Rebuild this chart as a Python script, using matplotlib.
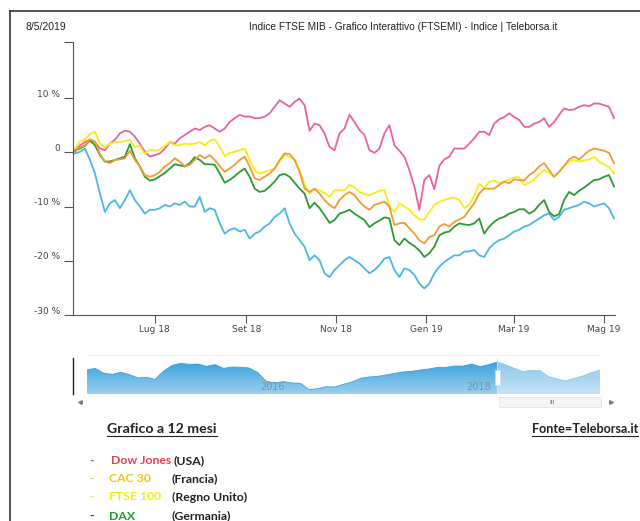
import numpy as np
import pandas as pd
import matplotlib
matplotlib.use('Agg')
import matplotlib.pyplot as plt
import matplotlib.dates as mdates
import matplotlib.transforms as mtransforms
from matplotlib.lines import Line2D
from matplotlib.patches import Rectangle
from matplotlib.colors import LinearSegmentedColormap

# --- 12 month performance (%) ---
dates = pd.date_range('2018-05-08', '2019-05-08', periods=109)

ftse_mib = [-0.2, 0.1, 0.7, -1.4, -3.9, -7.6, -11.0, -9.4, -8.8, -10.3,
            -8.8, -7.0, -8.8, -10.0, -11.3, -10.6, -10.6, -10.3, -9.7, -10.0,
            -9.4, -9.7, -9.1, -10.0, -10.0, -8.2, -11.0, -10.3, -10.6, -13.1,
            -15.0, -14.3, -14.0, -14.6, -14.3, -15.9, -15.0, -14.6, -13.7, -13.1,
            -11.9, -11.3, -10.3, -13.1, -15.0, -16.2, -17.4, -19.9, -19.0, -19.9,
            -22.3, -23.0, -21.7, -20.8, -19.9, -19.3, -19.9, -20.5, -21.4, -22.3,
            -21.7, -20.8, -19.6, -19.3, -21.7, -23.0, -21.4, -21.7, -22.6, -24.2,
            -25.1, -24.2, -22.3, -21.1, -20.2, -19.6, -19.0, -19.0, -18.3, -18.3,
            -18.0, -19.0, -19.3, -17.7, -16.8, -16.2, -15.9, -15.3, -14.6, -14.3,
            -13.7, -13.4, -12.8, -12.2, -11.6, -11.3, -12.5, -11.9, -10.6, -10.3,
            -10.0, -9.7, -9.1, -9.4, -10.0, -9.7, -9.4, -10.3, -12.2]

dow_jones = [0.1, 1.3, 1.9, 2.3, 1.9, 0.7, 0.4, 1.6, 2.3, 3.5,
             4.0, 3.8, 2.9, 1.6, 0.1, -0.8, -0.5, -0.2, 0.7, 1.9,
             1.6, 2.6, 3.2, 3.8, 4.4, 4.1, 4.7, 5.0, 4.4, 3.8,
             4.4, 5.6, 6.3, 6.9, 6.6, 6.6, 6.3, 6.3, 6.6, 7.2,
             8.4, 9.6, 9.0, 8.4, 9.3, 9.9, 8.7, 4.0, 5.3, 5.0,
             3.5, 1.0, 0.4, 3.5, 4.4, 6.9, 5.6, 4.1, 3.2, 0.4,
             -0.1, 0.7, 3.5, 5.0, 1.3, 0.3, -0.8, -3.3, -6.3, -10.6,
             -5.1, -4.2, -6.8, -2.5, -1.3, -0.8, 0.7, 0.7, 0.7, 1.6,
             2.6, 3.8, 3.8, 3.2, 5.3, 6.1, 6.5, 7.2, 6.5, 6.0,
             4.7, 4.7, 5.3, 5.6, 6.3, 4.7, 5.6, 6.9, 8.1, 7.8,
             7.9, 8.4, 8.7, 8.5, 9.0, 9.0, 8.7, 8.4, 6.3]

ftse_100 = [0.7, 2.0, 2.4, 3.4, 3.8, 1.6, 0.9, 1.6, 1.9, 1.9,
            2.1, 2.3, 0.9, 1.2, -0.3, 0.5, 0.3, 0.5, 1.2, 1.9,
            1.3, 1.3, 1.6, 1.5, 1.6, 1.9, 1.3, 2.1, 2.4, 1.0,
            -0.7, -0.1, 0.1, 0.4, 0.7, -1.4, -3.3, -3.9, -3.6, -3.3,
            -3.0, -1.7, -0.5, -0.8, -1.3, -3.3, -6.0, -7.6, -6.8, -7.0,
            -7.5, -8.2, -7.0, -7.0, -7.0, -6.0, -6.5, -7.3, -7.7, -7.9,
            -7.5, -7.1, -7.0, -10.0, -11.0, -9.4, -10.0, -10.6, -11.6, -12.4,
            -12.4, -11.0, -9.7, -9.1, -8.8, -8.5, -8.3, -8.8, -10.3, -9.7,
            -7.9, -5.8, -6.6, -5.4, -5.2, -5.7, -5.4, -5.0, -4.6, -4.6,
            -6.0, -5.6, -5.0, -4.0, -3.3, -3.8, -4.5, -3.6, -2.5, -1.7,
            -1.4, -1.7, -1.5, -1.3, -0.8, -1.7, -2.2, -2.7, -3.9]

cac = [0.4, 0.9, 1.3, 2.4, 2.0, -0.3, -1.7, -2.0, -1.4, -1.3,
       -1.1, 0.3, -1.4, -2.6, -4.2, -4.5, -4.2, -3.6, -2.6, -2.0,
       -1.1, -1.7, -2.6, -2.3, -1.4, -0.5, -1.1, -0.5, -1.4, -2.6,
       -3.6, -3.0, -2.3, -1.4, -0.8, -2.6, -4.8, -5.1, -4.5, -3.9,
       -3.0, -1.4, -0.2, -0.3, -1.4, -3.6, -6.7, -7.3, -6.7, -7.6,
       -8.8, -9.7, -10.3, -8.8, -7.9, -7.3, -7.9, -9.1, -10.0, -10.6,
       -9.7, -9.4, -9.1, -10.0, -13.4, -13.1, -13.0, -14.0, -15.0, -16.2,
       -16.8, -15.6, -15.3, -13.7, -13.2, -13.7, -12.8, -12.4, -11.9, -10.6,
       -9.4, -7.6, -6.7, -6.7, -6.7, -6.0, -5.4, -5.7, -5.0, -5.1,
       -5.2, -4.2, -3.6, -2.6, -2.0, -3.3, -4.5, -3.6, -2.5, -1.3,
       -0.8, -1.3, -0.5, 0.3, 0.7, 0.5, 0.3, -0.1, -2.0]

dax = [0.4, 0.7, 1.2, 2.2, 1.3, -0.5, -1.7, -1.7, -1.4, -1.1,
       -0.8, 1.5, -1.1, -2.6, -4.5, -5.2, -5.0, -4.4, -3.8, -3.0,
       -2.2, -2.4, -2.6, -2.0, -0.9, -1.4, -2.2, -2.2, -2.3, -3.9,
       -5.6, -5.1, -4.4, -3.6, -3.0, -4.5, -6.7, -7.3, -7.1, -6.3,
       -5.4, -4.2, -4.0, -4.5, -5.6, -6.7, -7.6, -10.3, -9.3, -10.3,
       -11.6, -13.0, -12.5, -11.3, -11.0, -10.6, -11.3, -11.9, -12.5, -13.8,
       -13.1, -12.6, -12.0, -12.2, -16.2, -17.1, -15.9, -16.7, -17.3, -18.1,
       -19.3, -18.6, -17.4, -15.3, -14.8, -14.6, -13.7, -13.1, -13.3, -13.4,
       -13.1, -12.2, -15.0, -13.7, -12.8, -12.2, -11.9, -11.3, -11.0, -10.5,
       -10.5, -11.3, -10.8, -9.7, -8.8, -11.0, -11.8, -11.4, -8.8, -7.3,
       -7.9, -7.1, -6.5, -5.8, -5.1, -5.0, -4.5, -4.2, -6.3]

# --- navigator (FTSE MIB, 5 years) ---
nav_dates = pd.date_range('2014-05-08', '2019-05-08', periods=61)
nav_level = [21960, 22460, 20950, 20650, 21250, 20550, 19540, 19740, 19130, 21660,
             23370, 23980, 23680, 23780, 23070, 23580, 22460, 22870, 22770, 22570,
             21150, 18530, 18020, 18430, 18020, 17920, 16000, 16300, 16910, 16810,
             17620, 18320, 19440, 19840, 20040, 20450, 20950, 21350, 21560, 21960,
             22260, 22770, 22770, 23170, 23170, 23780, 22970, 23580, 24380, 23480,
             22460, 21460, 21860, 21760, 19940, 19230, 18630, 19440, 20140, 21150,
             21960]
nav_years = ['2016-01-01', '2018-01-01']
nav_year_labels = ['2016', '2018']

xtick_dates = ['2018-07-01', '2018-09-01', '2018-11-01', '2019-01-01', '2019-03-01', '2019-05-01']
xtick_labels = ['Lug 18', 'Set 18', 'Nov 18', 'Gen 19', 'Mar 19', 'Mag 19']
ytick_vals = [-30, -20, -10, 0, 10]
ytick_labels = ['-30 %', '-20 %', '-10 %', '0', '10 %']

legend_names = ['Dow Jones', 'CAC 30', 'FTSE 100', 'DAX']
legend_countries = ['(USA)', '(Francia)', '(Regno Unito)', '(Germania)']
legend_colors = ['#e6404e', '#f3c21c', '#eeee10', '#1f9a2e']
dash_colors = ['#e6404e', '#f3d040', '#eeee40', '#333333']

W, H = 640, 521


def fx(x):
    return x / W


def fy(y):
    return 1 - y / H


fig = plt.figure(figsize=(6.4, 5.21), dpi=100)
fig.patch.set_facecolor('white')

# page frame of the scanned sheet
fig.add_artist(Line2D([fx(10), fx(640)], [fy(11), fy(11)], color='#333333', lw=1.2))
fig.add_artist(Line2D([fx(10), fx(10)], [fy(11), fy(521)], color='#333333', lw=1.2))

head_font = 'Liberation Sans'
fig.text(fx(26), fy(27), '8/5/2019', fontsize=7.5, family=head_font, va='center', color='#222222')
fig.text(fx(403), fy(27), 'Indice FTSE MIB - Grafico Interattivo (FTSEMI) - Indice | Teleborsa.it',
         fontsize=7.3, family=head_font, va='center', ha='center', color='#222222')

# --- main chart ---
ax = fig.add_axes([fx(73), fy(315), fx(615) - fx(73), fy(42) - fy(315)])
ax.plot(dates, ftse_mib, color='#4db6e8', lw=1.3)
ax.plot(dates, dow_jones, color='#e8629f', lw=1.3)
ax.plot(dates, ftse_100, color='#f6ec18', lw=1.3)
ax.plot(dates, dax, color='#2a9a32', lw=1.3)
ax.plot(dates, cac, color='#f39a32', lw=1.3)

ax.set_xlim(pd.Timestamp('2018-05-06 16:00'), pd.Timestamp('2019-05-08 16:00'))
ax.set_ylim(-30, 20.35)
for s in ['top', 'right']:
    ax.spines[s].set_visible(False)
for s in ['left', 'bottom']:
    ax.spines[s].set_color('#555555')
    ax.spines[s].set_linewidth(0.8)

ax.set_xticks(pd.to_datetime(xtick_dates))
ax.set_xticklabels(xtick_labels)
ax.set_yticks(ytick_vals + [20.35])
ax.set_yticklabels(ytick_labels + [''])
ax.tick_params(axis='y', direction='out', length=6.5, width=0.8, color='#555555',
               labelsize=6.5, labelcolor='#444444', pad=3)
ax.tick_params(axis='x', direction='out', length=5.8, width=0.8, color='#555555',
               labelsize=6.5, labelcolor='#444444', pad=1.5)
shift = mtransforms.ScaledTranslation(0, 0.05, fig.dpi_scale_trans)
for lbl in ax.get_yticklabels():
    lbl.set_transform(lbl.get_transform() + shift)

# --- navigator ---
nav = fig.add_axes([fx(86.7), fy(394), fx(600) - fx(86.7), fy(358) - fy(394)])
nav.axis('off')
ybot, ytop = 14690, 25600
poly = nav.fill_between(nav_dates, nav_level, ybot, color='none', lw=0)
cmap = LinearSegmentedColormap.from_list('nav', ['#9ccff0', '#36a2dc'])
grad = np.linspace(0, 1, 256).reshape(-1, 1)
x0, x1 = mdates.date2num(nav_dates[0]), mdates.date2num(nav_dates[-1])
im = nav.imshow(grad, cmap=cmap, aspect='auto', origin='lower',
                extent=[x0, x1, ybot, 24500], zorder=1)
im.set_clip_path(poly.get_paths()[0], transform=nav.transData)
nav.plot(nav_dates, nav_level, color='#3aa0d8', lw=0.6, zorder=2)
sel_start = dates[0]
nav.axvspan(sel_start, nav_dates[-1], color='white', alpha=0.42, lw=0, zorder=3)
nav.axvline(sel_start, color='#cfe6f4', lw=0.6, zorder=4)
nav.add_patch(Rectangle((mdates.date2num(sel_start) - 10, 0.25), 20, 0.42,
                        transform=mtransforms.blended_transform_factory(nav.transData, nav.transAxes),
                        facecolor='white', edgecolor='#d8d8d8', lw=0.5, zorder=5))
ylab = mtransforms.blended_transform_factory(nav.transData, nav.transAxes)
for d, lab in zip(nav_years, nav_year_labels):
    nav.text(mdates.date2num(pd.Timestamp(d)) + 15, 0.2, lab, transform=ylab, fontsize=7,
             color='#8c8c8c', ha='left', va='center', zorder=6)
nav.set_xlim(x0, x1)
nav.set_ylim(ybot, ytop)

fig.add_artist(Line2D([fx(87), fx(600)], [fy(355), fy(355)], color='#ececec', lw=0.6))
fig.add_artist(Line2D([fx(73), fx(73)], [fy(358), fy(394)], color='#222222', lw=1.0))

# scrollbar
fig.add_artist(Rectangle((fx(499), fy(407)), fx(601) - fx(499), fy(397) - fy(407),
                         facecolor='#f5f5f5', edgecolor='#e0e0e0', lw=0.5))
fig.text(fx(552), fy(402), 'III', fontsize=4.5, color='#666666', ha='center', va='center')
fig.add_artist(Line2D([fx(80)], [fy(402)], marker='<', markersize=2.5, color='#777777', lw=0))
fig.add_artist(Line2D([fx(611)], [fy(402)], marker='>', markersize=2.5, color='#777777', lw=0))

# --- text under the chart ---
body_font = 'Lato'
t1 = fig.text(fx(107), fy(429), 'Grafico a 12 mesi', fontsize=10.2, family=body_font,
              fontweight='bold', va='center', color='#222222')
t2 = fig.text(fx(532), fy(429), 'Fonte=Teleborsa.it', fontsize=9.1, family=body_font,
              fontweight='bold', va='center', color='#222222')

rows_y = [461, 479, 497, 516]
for y, name, country, col, dcol in zip(rows_y, legend_names, legend_countries, legend_colors, dash_colors):
    fig.text(fx(89), fy(y), '-', fontsize=8.8, family=body_font, fontweight='bold', va='center', color=dcol)
    nx = 111 if name == 'Dow Jones' else 109
    fig.text(fx(nx), fy(y), name, fontsize=8.8, family=body_font, fontweight='bold', va='center', color=col)
    cx = 174 if name == 'Dow Jones' else 172
    fig.text(fx(cx), fy(y), country, fontsize=8.8, family=body_font, fontweight='bold', va='center',
             color='#222222')

fig.canvas.draw()
r = fig.canvas.get_renderer()
for t in (t1, t2):
    bb = t.get_window_extent(r)
    fig.add_artist(Line2D([bb.x0 / W, bb.x1 / W], [(bb.y0 - 0.5) / H] * 2, color='#222222', lw=0.8))

fig.savefig('out.png', dpi=100)
